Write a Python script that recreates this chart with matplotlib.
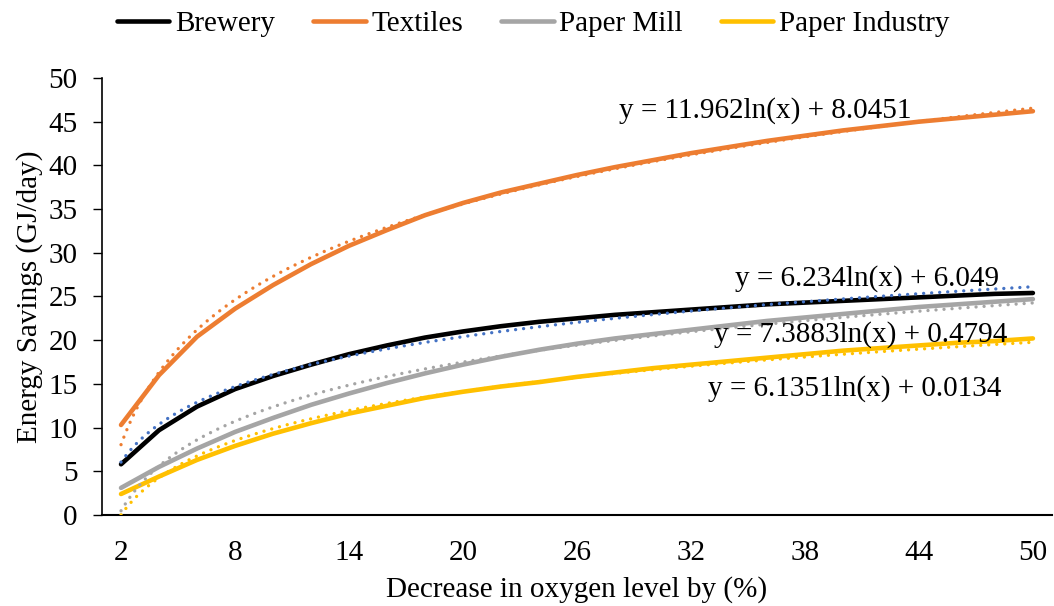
import numpy as np
import matplotlib
matplotlib.use("Agg")
import matplotlib.pyplot as plt

plt.rcParams['font.family'] = ['Liberation Serif', 'DejaVu Serif']

# oxygen level decrease (%) and energy savings (GJ/day)
oxygen = list(range(2, 51, 2))
brewery = [5.8, 9.7, 12.4, 14.4, 15.9, 17.2, 18.4, 19.4, 20.3, 21.0, 21.6, 22.1,
           22.5, 22.9, 23.2, 23.5, 23.8, 24.1, 24.3, 24.5, 24.7, 24.9, 25.1, 25.3, 25.4]
textiles = [10.3, 16.0, 20.4, 23.6, 26.3, 28.7, 30.8, 32.6, 34.3, 35.7, 36.9, 37.9,
            38.9, 39.8, 40.6, 41.4, 42.1, 42.8, 43.4, 44.0, 44.5, 45.0, 45.4, 45.8, 46.2]
paper_mill = [3.1, 5.5, 7.6, 9.5, 11.1, 12.6, 13.9, 15.1, 16.2, 17.2, 18.1, 18.9,
              19.6, 20.2, 20.7, 21.2, 21.7, 22.2, 22.6, 23.0, 23.4, 23.8, 24.1, 24.4, 24.7]
paper_industry = [2.4, 4.4, 6.3, 7.9, 9.3, 10.5, 11.6, 12.5, 13.4, 14.1, 14.7, 15.2,
                  15.8, 16.3, 16.8, 17.2, 17.6, 18.0, 18.4, 18.8, 19.1, 19.4, 19.7, 19.9, 20.2]

# log trendline coefficients: y = a*ln(x) + b, x = point index
trend_a = [6.234, 11.962, 7.3883, 6.1351]
trend_b = [6.049, 8.0451, 0.4794, 0.0134]
trend_labels = ["y = 6.234ln(x) + 6.049", "y = 11.962ln(x) + 8.0451",
                "y = 7.3883ln(x) + 0.4794", "y = 6.1351ln(x) + 0.0134"]

names = ["Brewery", "Textiles", "Paper Mill", "Paper Industry"]
series = [brewery, textiles, paper_mill, paper_industry]
colors = ["#000000", "#ED7D31", "#A5A5A5", "#FFC000"]
trend_colors = ["#4472C4", "#ED7D31", "#A5A5A5", "#FFC000"]
label_pos = [(20.63, 27.1), (17.95, 46.3), (20.47, 20.6), (20.3, 14.5)]

fig = plt.figure(figsize=(10.54, 6.06), dpi=100)
ax = fig.add_axes([0.0968, 0.1502, 0.9012, 0.7211])

idx = np.arange(1, len(oxygen) + 1)
xs = np.linspace(1, len(oxygen), 300)

for vals, name, c in zip(series, names, colors):
    ax.plot(idx, vals, color=c, lw=3.3, label=name, solid_capstyle='round',
            solid_joinstyle='round', zorder=3)

for a, b, c in zip(trend_a, trend_b, trend_colors):
    ax.plot(xs, a * np.log(xs) + b, color=c, lw=2.4,
            linestyle=(0, (0.01, 2.4)), dash_capstyle='round', zorder=4)

for text, (tx, ty) in zip(trend_labels, label_pos):
    ax.text(tx, ty, text, fontsize=21, ha='center', va='center', zorder=5)

ax.set_xlim(0.5, len(oxygen) + 0.5)
ax.set_ylim(0, 50)
ax.set_yticks(range(0, 51, 5))
ax.set_xticks(idx[::3])
ax.set_xticklabels([str(o) for o in oxygen[::3]])
ax.tick_params(axis='y', labelsize=21, length=6.5, width=1, pad=11)
ax.tick_params(axis='x', labelsize=21, length=0, pad=18)

for s in ['top', 'right']:
    ax.spines[s].set_visible(False)
ax.spines['left'].set_linewidth(1.2)
ax.spines['bottom'].set_linewidth(1.5)

ax.set_xlabel("Decrease in oxygen level by (%)", fontsize=21, labelpad=7)
ax.set_ylabel("Energy Savings (GJ/day)", fontsize=21, labelpad=4)

fig.legend(loc='center', bbox_to_anchor=(0.506, 0.96), ncol=4, frameon=False,
           fontsize=21, handlelength=1.8, handletextpad=0.2, columnspacing=1.3)

fig.savefig("out.png", dpi=100)
